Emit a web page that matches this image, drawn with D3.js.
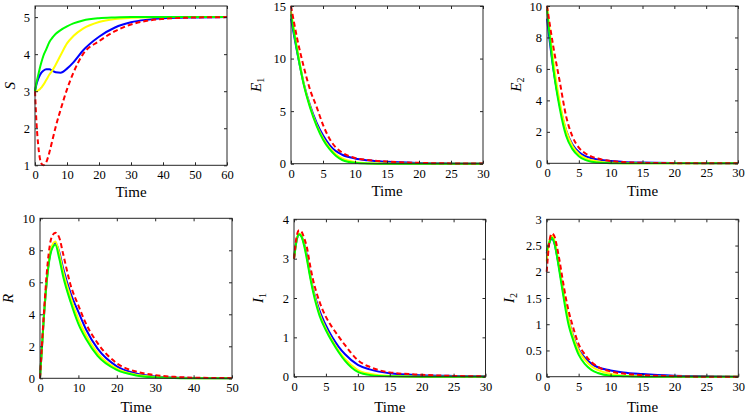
<!DOCTYPE html>
<html><head><meta charset="utf-8">
<script src="https://cdn.jsdelivr.net/npm/d3@7"></script>
<style>
html,body{margin:0;padding:0;background:#fff;}
svg{display:block;}
svg text{font-family:'Liberation Serif','Times New Roman',Times,serif !important;fill:#000;font-weight:normal;}
</style></head>
<body><svg id="chart" width="746" height="418"></svg>
<script>
// ---------- data ----------
const tS = [0,0.5,1,1.5,2,2.6,3.5,4.5,5.5,6.5,8,10,12,15,20,25,30,35,40,50,60];
const sBlue   = [3.0,3.2,3.33,3.43,3.5,3.55,3.59,3.59,3.55,3.51,3.5,3.61,3.78,4.1,4.47,4.72,4.86,4.93,4.97,4.99,5.0];
const sYellow = [3.0,3.0,3.02,3.05,3.1,3.17,3.3,3.45,3.57,3.72,3.97,4.29,4.49,4.69,4.87,4.95,4.98,4.99,5.0,5.0,5.0];
const sGreen  = [3.0,3.25,3.43,3.62,3.78,3.95,4.13,4.33,4.45,4.55,4.65,4.75,4.83,4.91,4.97,4.99,5.0,5.0,5.0,5.0,5.0];
const sRed    = [3.0,2.1,1.55,1.2,1.05,1.0,1.08,1.35,1.7,2.05,2.5,3.05,3.5,4.0,4.35,4.62,4.8,4.9,4.95,4.99,5.0];

const tE = [0,1,2,3,4,5,6,7,8,10,12,15,20,25,30];
const e1Blue   = [13.8,10.5,7.6,5.5,3.9,2.7,1.8,1.2,0.85,0.5,0.32,0.18,0.07,0.03,0.01];
const e1Yellow = [14.5,10.8,7.6,5.4,3.7,2.45,1.55,0.9,0.5,0.15,0.05,0.01,0,0,0];
const e1Green  = [14.2,10.6,7.5,5.3,3.6,2.3,1.4,0.75,0.35,0.08,0.02,0,0,0,0];
const e1Red    = [15,11.8,9.2,7.0,5.4,3.7,2.4,1.55,1.05,0.55,0.35,0.2,0.08,0.03,0.01];

const e2Blue   = [9.2,6.0,3.7,2.1,1.2,0.72,0.45,0.32,0.24,0.14,0.09,0.05,0.02,0.01,0];
const e2Yellow = [10,6.5,3.9,2.1,1.1,0.6,0.33,0.2,0.12,0.04,0.01,0,0,0,0];
const e2Green  = [9.8,6.0,3.5,1.75,0.9,0.45,0.22,0.1,0.05,0.01,0,0,0,0,0];
const e2Red    = [10,7.4,5.2,3.0,1.7,1.0,0.64,0.42,0.3,0.15,0.08,0.03,0.01,0,0];

const tR = [0,1,2,3,4,5,6,8,10,12,15,20,25,30,35,40,50];
const rBlue   = [0,3.8,6.7,8.1,8.45,7.9,6.9,5.3,4.15,3.05,1.85,0.75,0.3,0.12,0.05,0.02,0];
const rYellow = [0,3.8,6.7,8.2,8.55,7.8,6.7,5.05,3.7,2.7,1.58,0.6,0.22,0.08,0.03,0.01,0];
const rGreen  = [0,3.8,6.6,8.0,8.35,7.5,6.4,4.75,3.4,2.45,1.4,0.52,0.18,0.06,0.02,0,0];
const rRed    = [0,4.0,7.2,8.8,9.1,8.8,7.8,5.8,4.55,3.4,2.2,0.94,0.42,0.2,0.09,0.04,0.01];

const tI = [0,0.4,0.8,1.2,1.6,2,2.5,3,3.5,4,5,6,7,8,10,12,15,20,25,30];
const i1Blue   = [3.0,3.46,3.62,3.56,3.38,3.1,2.62,2.22,1.93,1.68,1.3,1.0,0.76,0.57,0.3,0.18,0.09,0.04,0.02,0.01];
const i1Yellow = [3.0,3.47,3.64,3.57,3.36,3.05,2.6,2.2,1.88,1.6,1.22,0.92,0.66,0.45,0.17,0.07,0.02,0,0,0];
const i1Green  = [3.0,3.45,3.62,3.55,3.32,3.0,2.55,2.15,1.82,1.55,1.18,0.88,0.62,0.4,0.12,0.04,0.01,0,0,0];
const i1Red    = [3.0,3.55,3.72,3.68,3.52,3.3,2.85,2.45,2.15,1.9,1.52,1.25,1.02,0.8,0.42,0.24,0.11,0.05,0.02,0.01];

const i2Blue   = [2.35,2.55,2.63,2.55,2.32,2.05,1.68,1.33,1.05,0.83,0.52,0.36,0.25,0.18,0.12,0.08,0.05,0.02,0.01,0];
const i2Yellow = [2.2,2.58,2.68,2.6,2.37,2.08,1.7,1.35,1.05,0.82,0.5,0.32,0.2,0.13,0.05,0.02,0.01,0,0,0];
const i2Green  = [2.4,2.55,2.65,2.55,2.3,2.0,1.62,1.25,0.95,0.75,0.42,0.24,0.13,0.07,0.02,0.01,0,0,0,0];
const i2Red    = [2.0,2.55,2.73,2.68,2.48,2.22,1.85,1.5,1.22,1.0,0.62,0.42,0.28,0.19,0.1,0.06,0.03,0.01,0,0];

const xTicks60 = [0,10,20,30,40,50,60];
const xTicks30 = [0,5,10,15,20,25,30];
const xTicks50 = [0,10,20,30,40,50];
const yTicksS  = [1,2,3,4,5];
const yTicksE1 = [0,5,10,15];
const yTicksE2 = [0,2,4,6,8,10];
const yTicksR  = [0,2,4,6,8,10];
const yTicksI1 = [0,1,2,3,4];
const yTicksI2 = [0,0.5,1,1.5,2,2.5,3];

const seriesStyle = [
  {name:'blue',   color:'#0000ff', dash:null},
  {name:'yellow', color:'#ffff00', dash:null},
  {name:'green',  color:'#00ff00', dash:null},
  {name:'red',    color:'#ff0000', dash:'5,3'}
];

// ---------- layout ----------
const panels = [
  {box:[35,227,6,165.3],   xd:[0,60], yd:[1,5.3], xt:xTicks60, yt:yTicksS,  t:tS, ys:[sBlue,sYellow,sGreen,sRed],     lab:'S', sub:null, labX:10,  timeY:197},
  {box:[291,483,6,163.7],  xd:[0,30], yd:[0,15],  xt:xTicks30, yt:yTicksE1, t:tE, ys:[e1Blue,e1Yellow,e1Green,e1Red], lab:'E', sub:'1', labX:256, timeY:196},
  {box:[547,738,6,163.3],  xd:[0,30], yd:[0,10],  xt:xTicks30, yt:yTicksE2, t:tE, ys:[e2Blue,e2Yellow,e2Green,e2Red], lab:'E', sub:'2', labX:516, timeY:196},
  {box:[40,232,218.3,378.3], xd:[0,50], yd:[0,10], xt:xTicks50, yt:yTicksR, t:tR, ys:[rBlue,rYellow,rGreen,rRed],     lab:'R', sub:null, labX:8,   timeY:412},
  {box:[294,485.5,219.3,376.7], xd:[0,30], yd:[0,4], xt:xTicks30, yt:yTicksI1, t:tI, ys:[i1Blue,i1Yellow,i1Green,i1Red], lab:'I', sub:'1', labX:258, timeY:412},
  {box:[546.7,738.3,219.3,376.7], xd:[0,30], yd:[0,3], xt:xTicks30, yt:yTicksI2, t:tI, ys:[i2Blue,i2Yellow,i2Green,i2Red], lab:'I', sub:'2', labX:509, timeY:412}
];

const svg = d3.select('#chart');

panels.forEach(p => {
  const [x0,x1,y0,y1] = p.box;
  const x = d3.scaleLinear().domain(p.xd).range([x0,x1]);
  const y = d3.scaleLinear().domain(p.yd).range([y1,y0]);
  const g = svg.append('g');

  const line = d3.line().x(d => x(d[0])).y(d => y(d[1])).curve(d3.curveMonotoneX);
  seriesStyle.forEach((s,i) => {
    const pts = p.t.map((tv,k) => [tv, p.ys[i][k]]);
    g.append('path').attr('d', line(pts))
      .attr('fill','none').attr('stroke', s.color).attr('stroke-width', 2)
      .attr('stroke-dasharray', s.dash);
  });

  const fmt = d => String(d);
  const gb = g.append('g').attr('transform',`translate(0,${y1})`)
    .call(d3.axisBottom(x).tickValues(p.xt).tickFormat(fmt).tickSizeInner(-3).tickSizeOuter(0).tickPadding(5));
  const gt = g.append('g').attr('transform',`translate(0,${y0})`)
    .call(d3.axisTop(x).tickValues(p.xt).tickFormat('').tickSizeInner(-3).tickSizeOuter(0));
  const gl = g.append('g').attr('transform',`translate(${x0},0)`)
    .call(d3.axisLeft(y).tickValues(p.yt).tickFormat(fmt).tickSizeInner(-3).tickSizeOuter(0).tickPadding(5));
  const gr = g.append('g').attr('transform',`translate(${x1},0)`)
    .call(d3.axisRight(y).tickValues(p.yt).tickFormat('').tickSizeInner(-3).tickSizeOuter(0));
  [gb,gt,gl,gr].forEach(a => {
    a.attr('font-family', null).attr('font-size', null);
    a.select('.domain').remove();
    a.selectAll('line').attr('stroke','#262626');
    a.selectAll('text').attr('fill','#000').style('font-size','12.5px');
  });

  g.append('rect').attr('x',x0).attr('y',y0).attr('width',x1-x0).attr('height',y1-y0)
    .attr('fill','none').attr('stroke','#262626').attr('stroke-width',1);

  g.append('text').attr('x',(x0+x1)/2).attr('y',p.timeY).attr('text-anchor','middle')
    .style('font-size','15px').text('Time');

  const yl = g.append('text')
    .attr('transform',`translate(${p.labX+5},${(y0+y1)/2}) rotate(-90)`)
    .attr('text-anchor','middle').style('font-size','15px').style('font-style','italic');
  yl.append('tspan').text(p.lab);
  if (p.sub) yl.append('tspan').style('font-size','10px').style('font-style','normal').attr('dy',3).text(p.sub);
});
</script></body></html>
